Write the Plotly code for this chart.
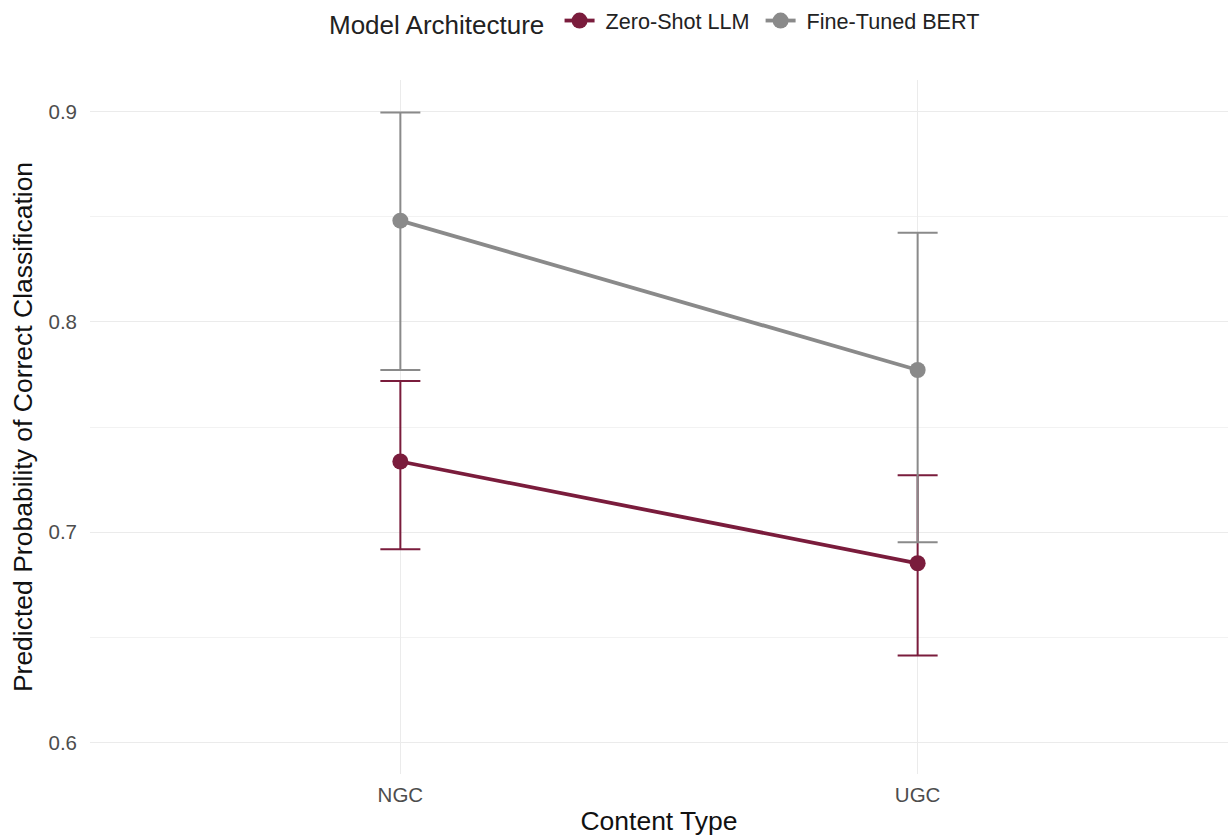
import plotly.graph_objects as go

# Predicted probabilities with 95% intervals by content type
content_types = ["NGC", "UGC"]

llm_mean = [0.7336, 0.6852]
llm_lower = [0.6919, 0.6414]
llm_upper = [0.7719, 0.7271]

bert_mean = [0.8481, 0.7771]
bert_lower = [0.7771, 0.6952]
bert_upper = [0.8995, 0.8424]

series = [
    ("Zero-Shot LLM", llm_mean, llm_lower, llm_upper, "#7a1c3c"),
    ("Fine-Tuned BERT", bert_mean, bert_lower, bert_upper, "#8a8a8a"),
]

fig = go.Figure()
for name, mean, lo, hi, color in series:
    fig.add_trace(go.Scatter(
        x=content_types,
        y=mean,
        # non-breaking spaces pad the legend label away from its glyph
        name="\u00a0" + name + "\u00a0",
        mode="lines+markers",
        line=dict(color=color, width=3.8),
        marker=dict(color=color, size=16),
        error_y=dict(
            type="data",
            symmetric=False,
            array=[h - m for h, m in zip(hi, mean)],
            arrayminus=[m - l for m, l in zip(mean, lo)],
            color=color,
            thickness=2,
            width=20,
        ),
    ))

font_family = "Liberation Sans, Arial, sans-serif"

fig.update_layout(
    width=1228,
    height=840,
    paper_bgcolor="white",
    plot_bgcolor="white",
    margin=dict(l=90, r=0, t=80, b=66),
    font=dict(family=font_family, color="#222222"),
    legend=dict(
        orientation="h",
        x=0.5,
        xref="paper",
        xanchor="center",
        y=1 - 22 / 840,
        yref="container",
        yanchor="middle",
        title=dict(text="Model Architecture ", font=dict(size=26, color="#222222")),
        font=dict(size=21.6, color="#222222"),
        itemwidth=30,
        tracegroupgap=0,
    ),
    xaxis=dict(
        title=dict(text="Content Type", font=dict(size=26.5, color="#111111"), standoff=6),
        range=[-0.6, 1.6],
        showgrid=True,
        gridcolor="#ebebeb",
        gridwidth=1.2,
        zeroline=False,
        showline=False,
        ticks="",
        ticklabelstandoff=6,
        tickfont=dict(size=20.5, color="#4d4d4d"),
    ),
    yaxis=dict(
        title=dict(text="Predicted Probability of Correct Classification",
                   font=dict(size=26.5, color="#111111"), standoff=8),
        range=[0.585, 0.915],
        tickvals=[0.6, 0.7, 0.8, 0.9],
        ticktext=["0.6", "0.7", "0.8", "0.9"],
        showgrid=True,
        gridcolor="#ebebeb",
        gridwidth=1.2,
        zeroline=False,
        showline=False,
        ticks="",
        ticklabelstandoff=12,
        tickfont=dict(size=20.5, color="#4d4d4d"),
        minor=dict(tickvals=[0.65, 0.75, 0.85], showgrid=True,
                   gridcolor="#f2f2f2", gridwidth=1),
    ),
)

fig.write_html("out.html")
